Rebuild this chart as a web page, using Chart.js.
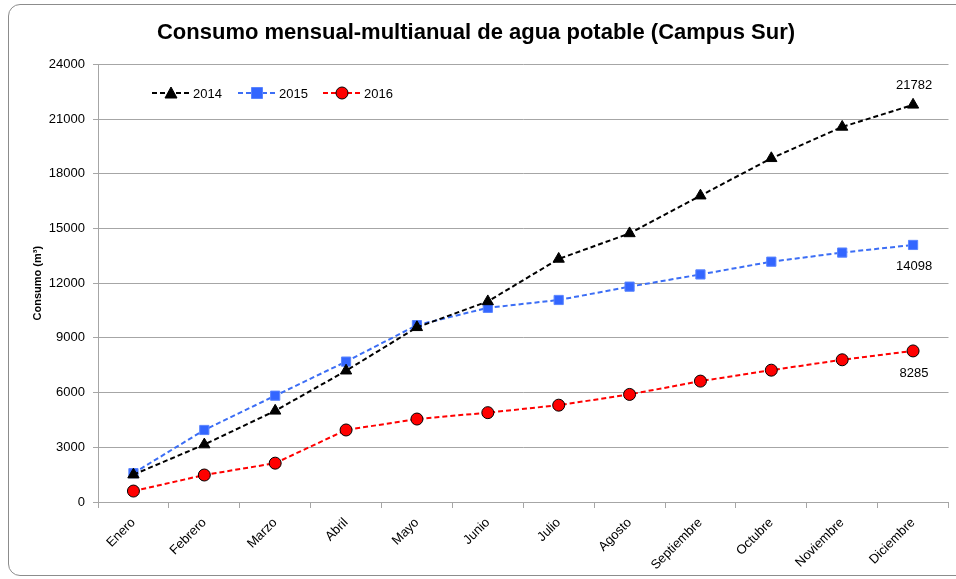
<!DOCTYPE html>
<html>
<head>
<meta charset="utf-8">
<script src="https://cdn.jsdelivr.net/npm/chart.js@4/dist/chart.umd.min.js"></script>
<style>
  html, body { margin:0; padding:0; background:#fff; }
  #wrap { position:relative; width:956px; height:579px; overflow:hidden; }
  #frame { position:absolute; left:8px; top:4px; width:970px; height:572px; border:1px solid #8c8c8c; border-radius:12px; box-sizing:border-box; pointer-events:none; }
</style>
</head>
<body>
<div id="wrap">
  <canvas id="chart" width="956" height="579"></canvas>
  <div id="frame"></div>
</div>
<script>
// data
const months = ['Enero','Febrero','Marzo','Abril','Mayo','Junio','Julio','Agosto','Septiembre','Octubre','Noviembre','Diciembre'];
const years = ['2014','2015','2016'];
const consumo2014 = [1500, 3150, 5000, 7200, 9580, 11000, 13330, 14730, 16800, 18850, 20570, 21782];
const consumo2015 = [1580, 3950, 5830, 7700, 9700, 10650, 11080, 11810, 12480, 13180, 13680, 14098];
const consumo2016 = [600, 1480, 2130, 3950, 4550, 4900, 5310, 5900, 6630, 7230, 7800, 8285];
const yTicks = [0, 3000, 6000, 9000, 12000, 15000, 18000, 21000, 24000];

const FONT = "'Liberation Sans', Arial, sans-serif";
const GRID = '#a6a6a6';

// small legend drawing: dashed line with marker in the middle
const legendPlugin = {
  id: 'excelLegend',
  afterDraw(chart){
    const ctx = chart.ctx;
    const starts = [152, 238, 323];
    const y = 93;
    chart.data.datasets.forEach((ds, i)=>{
      const x0 = starts[i];
      ctx.save();
      ctx.strokeStyle = ds.borderColor;
      ctx.lineWidth = 2;
      ctx.setLineDash([5,3]);
      ctx.beginPath(); ctx.moveTo(x0, y); ctx.lineTo(x0+38, y); ctx.stroke();
      ctx.setLineDash([]);
      drawMarker(ctx, ds.pointStyle, x0+19, y, ds.pointBackgroundColor, ds.pointBorderColor);
      ctx.fillStyle = '#000';
      ctx.font = '13px ' + FONT;
      ctx.textBaseline = 'middle';
      ctx.textAlign = 'left';
      ctx.fillText(ds.label, x0+41, y+1);
      ctx.restore();
    });
  }
};

function drawMarker(ctx, style, x, y, fill, stroke){
  ctx.fillStyle = fill;
  ctx.strokeStyle = stroke;
  ctx.lineWidth = 1;
  ctx.beginPath();
  if(style === 'triangle'){
    ctx.moveTo(x, y-6); ctx.lineTo(x+6, y+5); ctx.lineTo(x-6, y+5); ctx.closePath();
  } else if(style === 'rect'){
    ctx.rect(x-5.5, y-5.5, 11, 11);
  } else {
    ctx.arc(x, y, 6, 0, Math.PI*2);
  }
  ctx.fill(); ctx.stroke();
}

// value labels next to the last point of each series
const endLabels = {
  id: 'endLabels',
  afterDatasetsDraw(chart){
    const ctx = chart.ctx;
    const offsets = [-19, 21, 22];
    chart.data.datasets.forEach((ds, i)=>{
      const meta = chart.getDatasetMeta(i);
      const last = meta.data[meta.data.length-1];
      ctx.save();
      ctx.fillStyle = '#000';
      ctx.font = '13px ' + FONT;
      ctx.textAlign = 'center';
      ctx.textBaseline = 'middle';
      ctx.fillText(String(ds.data[ds.data.length-1]), last.x + 1, last.y + offsets[i]);
      ctx.restore();
    });
  }
};

const ctx = document.getElementById('chart').getContext('2d');
new Chart(ctx, {
  type: 'line',
  data: {
    labels: months,
    datasets: [
      { label: years[0], data: consumo2014, borderColor:'#000000', borderWidth:2, borderDash:[5,3],
        pointStyle:'triangle', pointRadius:6.5, pointBackgroundColor:'#000000', pointBorderColor:'#000000', pointBorderWidth:1, tension:0 },
      { label: years[1], data: consumo2015, borderColor:'#3c6ef5', borderWidth:2, borderDash:[5,3],
        pointStyle:'rect', pointRadius:6.5, pointBackgroundColor:'#3366ff', pointBorderColor:'#5a85ff', pointBorderWidth:1, tension:0 },
      { label: years[2], data: consumo2016, borderColor:'#ff0000', borderWidth:2, borderDash:[5,3],
        pointStyle:'circle', pointRadius:6, pointBackgroundColor:'#ff0000', pointBorderColor:'#000000', pointBorderWidth:1, tension:0 }
    ]
  },
  options: {
    responsive: false,
    animation: false,
    layout: { padding: { left:0, right:4, top:0, bottom:0 } },
    plugins: {
      legend: { display:false },
      tooltip: { enabled:false },
      title: {
        display: true,
        text: 'Consumo mensual-multianual de agua potable (Campus Sur)',
        color: '#000',
        font: { family: FONT, size: 22, weight: 'bold' },
        padding: { top: 20, bottom: 18 }
      }
    },
    scales: {
      x: {
        offset: true,
        grid: { offset:true, drawOnChartArea:false, color:GRID, tickLength:6 },
        border: { color:GRID, width:1 },
        ticks: { color:'#000', font:{ family:FONT, size:13 }, minRotation:45, maxRotation:45, padding:7 },
        afterFit(scale){ scale.height = 77; }
      },
      y: {
        min: 0, max: 24000,
        afterBuildTicks(scale){ scale.ticks = yTicks.map(v=>({value:v})); },
        grid: { color:GRID, tickLength:5 },
        border: { color:GRID, width:1 },
        ticks: { color:'#000', font:{ family:FONT, size:13 }, padding:8, callback: v => String(v) },
        title: { display:true, text:'Consumo (m³)', color:'#000', font:{ family:FONT, size:11, weight:'bold' }, padding:{ top:31, bottom:0 } },
        afterFit(scale){ scale.width = 98; }
      }
    }
  },
  plugins: [legendPlugin, endLabels]
});
</script>
</body>
</html>
